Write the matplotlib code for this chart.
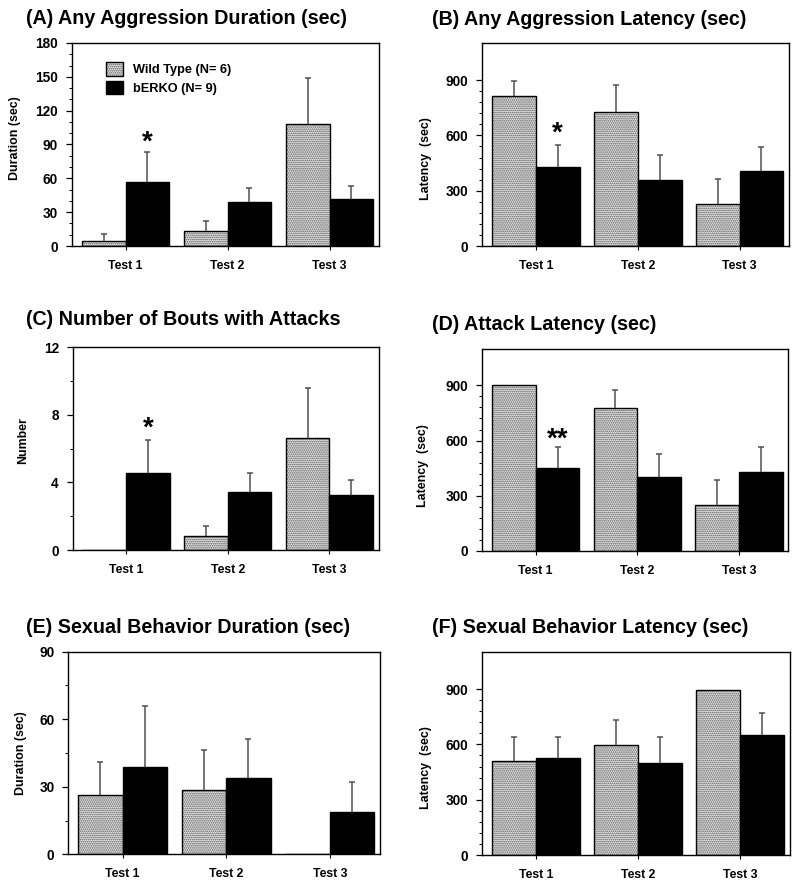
import matplotlib
matplotlib.use("Agg")
import matplotlib.pyplot as plt
import numpy as np
from matplotlib.legend_handler import HandlerTuple
from matplotlib.ticker import FixedLocator

plt.rcParams['font.family'] = ['Liberation Sans', 'DejaVu Sans']
plt.rcParams['font.weight'] = 'bold'
plt.rcParams['hatch.linewidth'] = 0.8

tests = ["Test 1", "Test 2", "Test 3"]
legend_labels = ["Wild Type (N= 6)", "bERKO (N= 9)"]

# Panel data: means and upper SEM
A_wt = [4.7, 13.3, 108.0]
A_wt_sem = [5.7, 8.6, 41.4]
A_ko = [56.8, 39.0, 41.4]
A_ko_sem = [26.2, 12.7, 11.6]

B_wt = [812, 729, 226]
B_wt_sem = [86, 142, 135]
B_ko = [427, 356, 408]
B_ko_sem = [121, 136, 129]

C_wt = [0.0, 0.85, 6.65]
C_wt_sem = [0.0, 0.58, 2.93]
C_ko = [4.58, 3.44, 3.25]
C_ko_sem = [1.92, 1.12, 0.92]

D_wt = [900, 777, 250]
D_wt_sem = [0, 100, 135]
D_ko = [450, 403, 430]
D_ko_sem = [115, 121, 132]

E_wt = [26.3, 28.6, 0.0]
E_wt_sem = [14.5, 17.6, 0.0]
E_ko = [38.8, 33.7, 18.7]
E_ko_sem = [26.9, 17.7, 13.6]

F_wt = [511, 599, 895]
F_wt_sem = [130, 131, 0]
F_ko = [525, 500, 650]
F_ko_sem = [116, 139, 122]

panels = [
    dict(title="(A) Any Aggression Duration (sec)", ylabel="Duration (sec)",
         wt=A_wt, wts=A_wt_sem, ko=A_ko, kos=A_ko_sem,
         ylim=180, major=30, minor=10, minor_max=180, ticks_max=180,
         sig=("*", 0, 91.5), rect=(72, 43, 379, 246), title_xy=(26, 24.5),
         ylab=(-0.167, 0.53), legend=True),
    dict(title="(B) Any Aggression Latency (sec)", ylabel="Latency  (sec)",
         wt=B_wt, wts=B_wt_sem, ko=B_ko, kos=B_ko_sem,
         ylim=1100, major=300, minor=60, minor_max=900, ticks_max=900,
         sig=("*", 0, 610), rect=(482.3, 43.3, 789, 246), title_xy=(432.3, 25),
         ylab=(-0.165, 0.43), legend=False),
    dict(title="(C) Number of Bouts with Attacks", ylabel="Number",
         wt=C_wt, wts=C_wt_sem, ko=C_ko, kos=C_ko_sem,
         ylim=12, major=4, minor=2, minor_max=12, ticks_max=12,
         sig=("*", 0, 7.2), rect=(72.7, 347.3, 378.7, 550), title_xy=(26, 325),
         ylab=(-0.142, 0.54), legend=False),
    dict(title="(D) Attack Latency (sec)", ylabel="Latency  (sec)",
         wt=D_wt, wts=D_wt_sem, ko=D_ko, kos=D_ko_sem,
         ylim=1100, major=300, minor=60, minor_max=900, ticks_max=900,
         sig=("**", 0, 605), rect=(482.3, 348.7, 788.3, 550.7), title_xy=(432.3, 330),
         ylab=(-0.173, 0.42), legend=False),
    dict(title="(E) Sexual Behavior Duration (sec)", ylabel="Duration (sec)",
         wt=E_wt, wts=E_wt_sem, ko=E_ko, kos=E_ko_sem,
         ylim=90, major=30, minor=15, minor_max=90, ticks_max=90,
         sig=None, rect=(68.3, 651.7, 380, 854.3), title_xy=(26, 633),
         ylab=(-0.133, 0.50), legend=False),
    dict(title="(F) Sexual Behavior Latency (sec)", ylabel="Latency  (sec)",
         wt=F_wt, wts=F_wt_sem, ko=F_ko, kos=F_ko_sem,
         ylim=1100, major=300, minor=60, minor_max=900, ticks_max=900,
         sig=None, rect=(482.3, 652.3, 790, 855), title_xy=(432.3, 633),
         ylab=(-0.165, 0.43), legend=False),
]

W, H = 800, 896
fig = plt.figure(figsize=(W / 100, H / 100), dpi=100)
x = np.arange(len(tests))
bw = 0.43
err_color = '#505050'

for p in panels:
    l, t, r, b = p['rect']
    ax = fig.add_axes([l / W, 1 - b / H, (r - l) / W, (b - t) / H])
    wt = np.array(p['wt']); ko = np.array(p['ko'])
    wts = np.array(p['wts']); kos = np.array(p['kos'])
    wt_fill = ax.bar(x - bw / 2, wt, bw, facecolor='#e6e6e6', edgecolor='#555555',
                     hatch='........', linewidth=0, zorder=2)
    wt_edge = ax.bar(x - bw / 2, wt, bw, facecolor='none', edgecolor='black',
                     linewidth=1.0, zorder=3)
    ko_bar = ax.bar(x + bw / 2, ko, bw, facecolor='black', edgecolor='black',
                    linewidth=1.0, zorder=3)
    for xs, m, s in ((x - bw / 2, wt, wts), (x + bw / 2, ko, kos)):
        mask = s > 0
        if mask.any():
            ax.vlines(xs[mask], m[mask], m[mask] + s[mask], colors=err_color,
                      linewidth=1.1, zorder=4)
            ax.plot(xs[mask], m[mask] + s[mask], linestyle='none', marker='_',
                    markersize=4.5, markeredgewidth=1.1, color=err_color, zorder=4)
    ax.set_xlim(-0.525, 2.485)
    ax.set_ylim(0, p['ylim'])
    ax.yaxis.set_major_locator(FixedLocator(np.arange(0, p['ticks_max'] + 1e-9, p['major'])))
    ax.yaxis.set_minor_locator(FixedLocator(np.arange(0, p['minor_max'] + 1e-9, p['minor'])))
    ax.set_xticks(x)
    ax.set_xticklabels(tests, fontsize=8.8, fontweight='bold')
    ax.tick_params(axis='y', which='major', direction='out', length=4, width=0.9,
                   labelsize=9.8, pad=6)
    ax.tick_params(axis='y', which='minor', direction='out', length=2.5, width=0.7)
    ax.tick_params(axis='x', which='major', direction='out', length=3, width=0.8,
                   pad=7)
    for sp in ax.spines.values():
        sp.set_linewidth(1.0)
    ax.set_ylabel(p['ylabel'], fontsize=8.9, fontweight='bold')
    ax.yaxis.set_label_coords(p['ylab'][0], p['ylab'][1])
    if p['sig'] is not None:
        txt, gi, yv = p['sig']
        ax.text(x[gi] + bw / 2, yv, txt, ha='center', va='center', fontsize=20,
                fontweight='bold', zorder=5)
    if p['legend']:
        ax.legend([(wt_fill, wt_edge), ko_bar], legend_labels,
                  handler_map={tuple: HandlerTuple(ndivide=1, pad=0)},
                  loc='upper left', bbox_to_anchor=(0.11, 0.905), frameon=False,
                  fontsize=9.2, handlelength=1.33, handleheight=1.27,
                  handletextpad=0.78, labelspacing=0.34, borderpad=0,
                  borderaxespad=0)
    tx, ty = p['title_xy']
    fig.text(tx / W, 1 - ty / H, p['title'], fontsize=14.2, fontweight='bold',
             ha='left', va='baseline')

fig.savefig("out.png", dpi=100)
